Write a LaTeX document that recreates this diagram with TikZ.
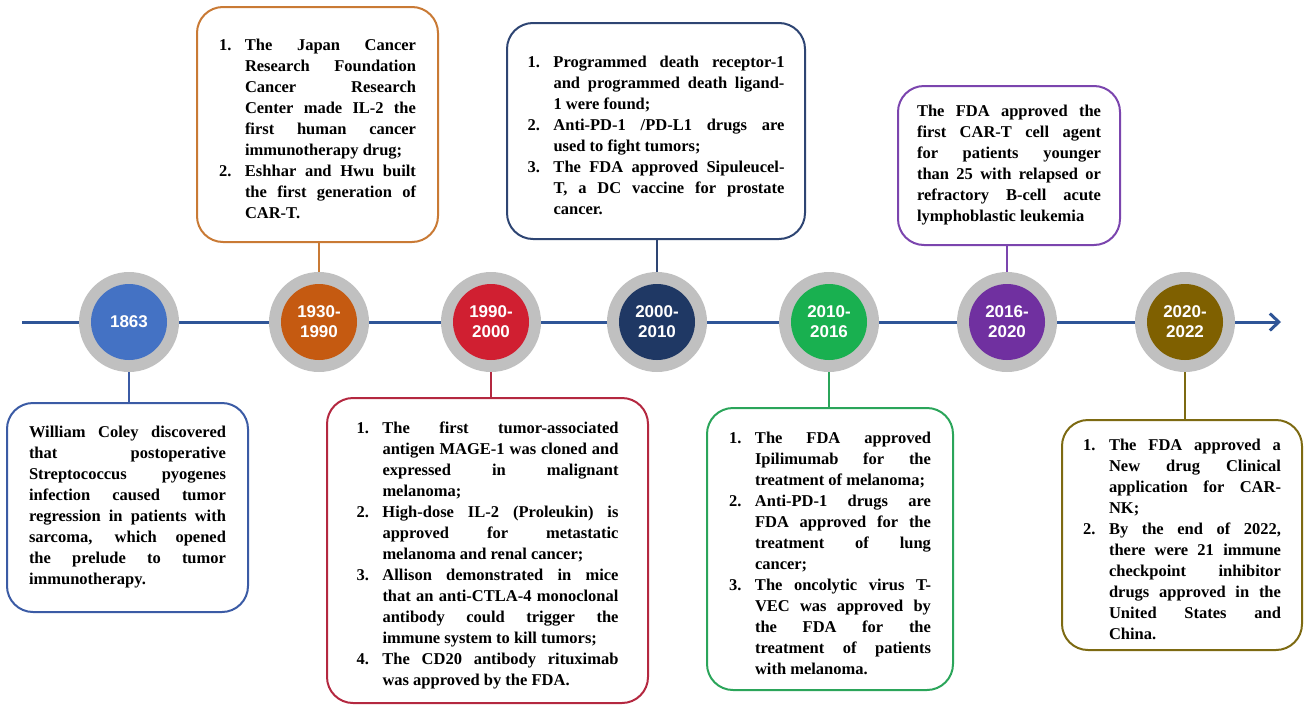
\documentclass[tikz,border=0pt]{standalone}
\usepackage{fontspec}
\setmainfont{Liberation Serif}
\newfontfamily\yearfont{Liberation Sans}
\usetikzlibrary{arrows.meta}

\definecolor{axisblue}{HTML}{2F5597}
\definecolor{ringgray}{HTML}{C0C0C0}
\definecolor{fillA}{HTML}{4472C4}
\definecolor{fillB}{HTML}{C55A11}
\definecolor{fillC}{HTML}{D01F31}
\definecolor{fillD}{HTML}{1F3864}
\definecolor{fillE}{HTML}{19B050}
\definecolor{fillF}{HTML}{7030A0}
\definecolor{fillG}{HTML}{7F6000}
\definecolor{lineA}{HTML}{3B5BA5}
\definecolor{lineB}{HTML}{C97A35}
\definecolor{lineC}{HTML}{B42840}
\definecolor{lineD}{HTML}{2E4573}
\definecolor{lineE}{HTML}{2BA55A}
\definecolor{lineF}{HTML}{7B45AE}
\definecolor{lineG}{HTML}{7D6A12}

\newlength{\tlindent}
\setlength{\tlindent}{26pt}
\newcommand{\tlitem}[2]{\par\noindent\hangindent=\tlindent\hangafter=1\makebox[\tlindent][l]{#1}#2\par}

\begin{document}
\begin{tikzpicture}[x=1pt,y=-1pt,
	ring/.style={circle,fill=ringgray,minimum size=100pt,inner sep=0pt},
	year/.style={circle,minimum size=76pt,inner sep=0pt,text=white,align=center,font=\yearfont\bfseries\fontsize{17}{20}\selectfont},
	event/.style={draw,rounded corners=26pt,line width=2pt,inner sep=0pt,align=justify,font=\bfseries\fontsize{16.5}{21}\selectfont\sloppy},
	link/.style={line width=2.5pt}]
	\useasboundingbox (0,0) rectangle (1306,707);
	\coordinate (start) at (22,322);
	\coordinate (end) at (1281,322);
	\draw[axisblue,line width=3pt,-{Straight Barb[length=9pt,width=17pt]}] (start) -- (end);

	\node[ring] (r1863) at (129,322) {};
	\node[ring] (r1930) at (319,322) {};
	\node[ring] (r1990) at (491,322) {};
	\node[ring] (r2000) at (657,322) {};
	\node[ring] (r2010) at (829,322) {};
	\node[ring] (r2016) at (1007,322) {};
	\node[ring] (r2020) at (1185,322) {};
	\node[year,fill=fillA] (y1863) at (r1863) {1863};
	\node[year,fill=fillB] (y1930) at (r1930) {1930-\\1990};
	\node[year,fill=fillC] (y1990) at (r1990) {1990-\\2000};
	\node[year,fill=fillD] (y2000) at (r2000) {2000-\\2010};
	\node[year,fill=fillE] (y2010) at (r2010) {2010-\\2016};
	\node[year,fill=fillF] (y2016) at (r2016) {2016-\\2020};
	\node[year,fill=fillG] (y2020) at (r2020) {2020-\\2022};

	\node[event,draw=lineA,text width=197pt,minimum width=241pt,minimum height=209pt] (e1863) at (127.5,507.5) {William Coley discovered\linebreak that postoperative\linebreak Streptococcus pyogenes\linebreak infection caused tumor\linebreak regression in patients with\linebreak sarcoma, which opened\linebreak the prelude to tumor\linebreak immunotherapy.};
	\node[event,draw=lineB,text width=197pt,minimum width=241pt,minimum height=235pt] (e1930) at (317.5,124.5) {\tlitem{1.}{The Japan Cancer\linebreak Research Foundation\linebreak Cancer Research\linebreak Center made IL-2 the\linebreak first human cancer\linebreak immunotherapy drug;}\tlitem{2.}{Eshhar and Hwu built\linebreak the first generation of\linebreak CAR-T.}};
	\node[event,draw=lineC,text width=262pt,minimum width=321pt,minimum height=305pt] (e1990) at (487.5,550.5) {\tlitem{1.}{The first tumor-associated\linebreak antigen MAGE-1 was cloned and\linebreak expressed in malignant\linebreak melanoma;}\tlitem{2.}{High-dose IL-2 (Proleukin) is\linebreak approved for metastatic\linebreak melanoma and renal cancer;}\tlitem{3.}{Allison demonstrated in mice\linebreak that an anti-CTLA-4 monoclonal\linebreak antibody could trigger the\linebreak immune system to kill tumors;}\tlitem{4.}{The CD20 antibody rituximab\linebreak was approved by the FDA.}};
	\node[event,draw=lineD,text width=257pt,minimum width=298pt,minimum height=216pt] (e2000) at (656,131) {\tlitem{1.}{Programmed death receptor-1\linebreak and programmed death ligand-\linebreak 1 were found;}\tlitem{2.}{Anti-PD-1 /PD-L1 drugs are\linebreak used to fight tumors;}\tlitem{3.}{The FDA approved Sipuleucel-\linebreak T, a DC vaccine for prostate\linebreak cancer.}};
	\node[event,draw=lineE,text width=202pt,minimum width=246pt,minimum height=282pt] (e2010) at (830,549) {\tlitem{1.}{The FDA approved\linebreak Ipilimumab for the\linebreak treatment of melanoma;}\tlitem{2.}{Anti-PD-1 drugs are\linebreak FDA approved for the\linebreak treatment of lung\linebreak cancer;}\tlitem{3.}{The oncolytic virus T-\linebreak VEC was approved by\linebreak the FDA for the\linebreak treatment of patients\linebreak with melanoma.}};
	\node[event,draw=lineF,text width=184pt,minimum width=222pt,minimum height=159pt] (e2016) at (1009,165.5) {The FDA approved the\linebreak first CAR-T cell agent\linebreak for patients younger\linebreak than 25 with relapsed or\linebreak refractory B-cell acute\linebreak lymphoblastic leukemia};
	\node[event,draw=lineG,text width=198pt,minimum width=240pt,minimum height=230pt] (e2020) at (1182,535) {\tlitem{1.}{The FDA approved a\linebreak New drug Clinical\linebreak application for CAR-\linebreak NK;}\tlitem{2.}{By the end of 2022,\linebreak there were 21 immune\linebreak checkpoint inhibitor\linebreak drugs approved in the\linebreak United States and\linebreak China.}};

	\draw[link,lineA] (r1863.south) -- (r1863.south |- e1863.north);
	\draw[link,lineB] (r1930.north) -- (r1930.north |- e1930.south);
	\draw[link,lineC] (r1990.south) -- (r1990.south |- e1990.north);
	\draw[link,lineD] (r2000.north) -- (r2000.north |- e2000.south);
	\draw[link,lineE] (r2010.south) -- (r2010.south |- e2010.north);
	\draw[link,lineF] (r2016.north) -- (r2016.north |- e2016.south);
	\draw[link,lineG] (r2020.south) -- (r2020.south |- e2020.north);
\end{tikzpicture}
\end{document}
